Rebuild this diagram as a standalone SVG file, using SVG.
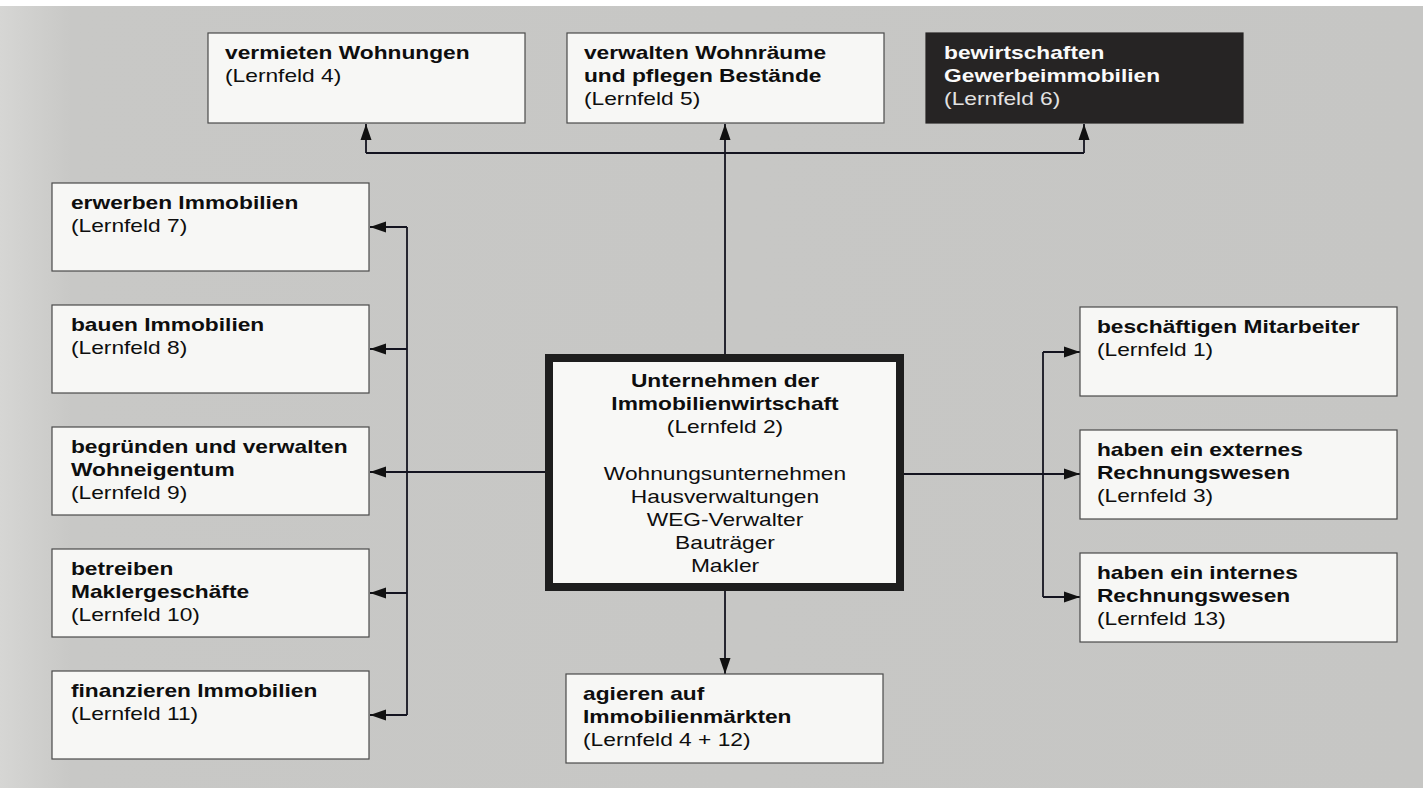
<svg xmlns="http://www.w3.org/2000/svg" width="1423" height="788" viewBox="0 0 1423 788">
<defs>
<style>
.box{fill:#f7f7f5;stroke:#4a4a4a;stroke-width:1.2}
.dark{fill:#262424;stroke:#262424;stroke-width:1.2}
.main{fill:#f8f8f6;stroke:#1e1e1e;stroke-width:8}
text{font-family:"Liberation Sans",Arial,sans-serif;font-size:17.5px;fill:#0e0e0e}
.b{font-weight:bold}
.w{fill:#fafafa}
.lw{fill:#e2e2e2}
.c{text-anchor:middle}
.con{fill:none;stroke:#141420;stroke-width:1.8}
</style>
<linearGradient id="bg" x1="0" y1="0" x2="1" y2="0">
<stop offset="0" stop-color="#d6d6d4"/>
<stop offset="0.05" stop-color="#c8c8c6"/>
<stop offset="1" stop-color="#c6c6c4"/>
</linearGradient>
<marker id="ah" markerUnits="userSpaceOnUse" markerWidth="18" markerHeight="12" refX="16" refY="6" orient="auto">
<path d="M0,0.5 L16,6 L0,11.5 Z" fill="#111"/>
</marker>
</defs>
<rect x="0" y="0" width="1423" height="788" fill="#ffffff"/>
<rect x="0" y="6" width="1423" height="782" fill="url(#bg)"/>

<g id="connectors">
<path class="con" d="M725,354 V124" marker-end="url(#ah)"/>
<path class="con" d="M366,153 H1084"/>
<path class="con" d="M366,153 V124" marker-end="url(#ah)"/>
<path class="con" d="M1084,153 V124" marker-end="url(#ah)"/>
<path class="con" d="M545,472 H370" marker-end="url(#ah)"/>
<path class="con" d="M407,227 V715"/>
<path class="con" d="M407,227 H370" marker-end="url(#ah)"/>
<path class="con" d="M407,349 H370" marker-end="url(#ah)"/>
<path class="con" d="M407,593 H370" marker-end="url(#ah)"/>
<path class="con" d="M407,715 H370" marker-end="url(#ah)"/>
<path class="con" d="M904,474 H1080" marker-end="url(#ah)"/>
<path class="con" d="M1043,352 V597"/>
<path class="con" d="M1043,352 H1080" marker-end="url(#ah)"/>
<path class="con" d="M1043,597 H1080" marker-end="url(#ah)"/>
<path class="con" d="M725,591 V674" marker-end="url(#ah)"/>
</g>

<g id="n-vermieten">
<rect class="box" x="208" y="33" width="317" height="90"/>
<g transform="scale(1.3 1)">
<text class="b" x="173.1" y="59">vermieten Wohnungen</text>
<text x="173.1" y="82">(Lernfeld 4)</text>
</g>
</g>
<g id="n-verwalten">
<rect class="box" x="567" y="33" width="317" height="90"/>
<g transform="scale(1.3 1)">
<text class="b" x="449.2" y="59">verwalten Wohnräume</text>
<text class="b" x="449.2" y="82">und pflegen Bestände</text>
<text x="449.2" y="105">(Lernfeld 5)</text>
</g>
</g>
<g id="n-bewirtschaften">
<rect class="dark" x="926" y="33" width="317" height="90"/>
<g transform="scale(1.3 1)">
<text class="b w" x="726.2" y="59">bewirtschaften</text>
<text class="b w" x="726.2" y="82">Gewerbeimmobilien</text>
<text class="lw" x="726.2" y="105">(Lernfeld 6)</text>
</g>
</g>

<g id="n-erwerben">
<rect class="box" x="52" y="183" width="317" height="88"/>
<g transform="scale(1.3 1)">
<text class="b" x="54.6" y="209">erwerben Immobilien</text>
<text x="54.6" y="232">(Lernfeld 7)</text>
</g>
</g>
<g id="n-bauen">
<rect class="box" x="52" y="305" width="317" height="88"/>
<g transform="scale(1.3 1)">
<text class="b" x="54.6" y="331">bauen Immobilien</text>
<text x="54.6" y="354">(Lernfeld 8)</text>
</g>
</g>
<g id="n-begruenden">
<rect class="box" x="52" y="427" width="317" height="88"/>
<g transform="scale(1.3 1)">
<text class="b" x="54.6" y="453">begründen und verwalten</text>
<text class="b" x="54.6" y="476">Wohneigentum</text>
<text x="54.6" y="499">(Lernfeld 9)</text>
</g>
</g>
<g id="n-betreiben">
<rect class="box" x="52" y="549" width="317" height="88"/>
<g transform="scale(1.3 1)">
<text class="b" x="54.6" y="575">betreiben</text>
<text class="b" x="54.6" y="598">Maklergeschäfte</text>
<text x="54.6" y="621">(Lernfeld 10)</text>
</g>
</g>
<g id="n-finanzieren">
<rect class="box" x="52" y="671" width="317" height="88"/>
<g transform="scale(1.3 1)">
<text class="b" x="54.6" y="697">finanzieren Immobilien</text>
<text x="54.6" y="720">(Lernfeld 11)</text>
</g>
</g>

<g id="n-zentrum">
<rect class="main" x="549" y="358" width="351" height="229"/>
<g transform="scale(1.3 1)">
<text class="b c" x="557.7" y="387">Unternehmen der</text>
<text class="b c" x="557.7" y="410">Immobilienwirtschaft</text>
<text class="c" x="557.7" y="433">(Lernfeld 2)</text>
<text class="c" x="557.7" y="480">Wohnungsunternehmen</text>
<text class="c" x="557.7" y="503">Hausverwaltungen</text>
<text class="c" x="557.7" y="526">WEG-Verwalter</text>
<text class="c" x="557.7" y="549">Bauträger</text>
<text class="c" x="557.7" y="572">Makler</text>
</g>
</g>

<g id="n-beschaeftigen">
<rect class="box" x="1080" y="307" width="317" height="89"/>
<g transform="scale(1.3 1)">
<text class="b" x="843.8" y="333">beschäftigen Mitarbeiter</text>
<text x="843.8" y="356">(Lernfeld 1)</text>
</g>
</g>
<g id="n-extern">
<rect class="box" x="1080" y="430" width="317" height="89"/>
<g transform="scale(1.3 1)">
<text class="b" x="843.8" y="456">haben ein externes</text>
<text class="b" x="843.8" y="479">Rechnungswesen</text>
<text x="843.8" y="502">(Lernfeld 3)</text>
</g>
</g>
<g id="n-intern">
<rect class="box" x="1080" y="553" width="317" height="89"/>
<g transform="scale(1.3 1)">
<text class="b" x="843.8" y="579">haben ein internes</text>
<text class="b" x="843.8" y="602">Rechnungswesen</text>
<text x="843.8" y="625">(Lernfeld 13)</text>
</g>
</g>

<g id="n-agieren">
<rect class="box" x="566" y="674" width="317" height="89"/>
<g transform="scale(1.3 1)">
<text class="b" x="448.5" y="700">agieren auf</text>
<text class="b" x="448.5" y="723">Immobilienmärkten</text>
<text x="448.5" y="746">(Lernfeld 4 + 12)</text>
</g>
</g>
</svg>
